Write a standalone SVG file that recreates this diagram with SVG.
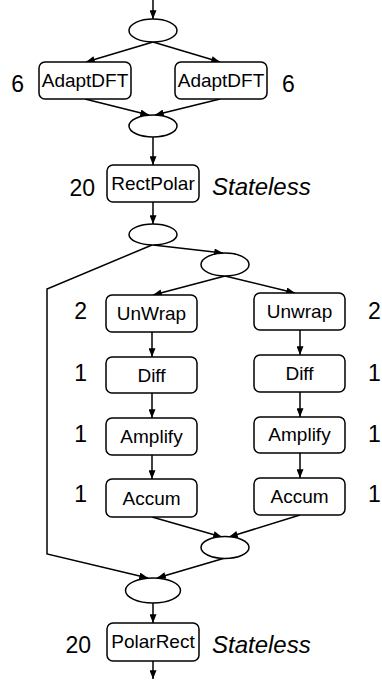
<svg xmlns="http://www.w3.org/2000/svg" width="382" height="680" viewBox="0 0 382 680">
<defs>
<marker id="ah" viewBox="0 0 10 8" refX="10" refY="4" markerWidth="9" markerHeight="7" orient="auto" markerUnits="userSpaceOnUse">
<path d="M0,0 L10,4 L0,8 z" fill="#000"/>
</marker>
</defs>
<style>
.box{fill:#fff;stroke:#000;stroke-width:1.5}
.el{fill:#fff;stroke:#000;stroke-width:1.5}
.bt{font-family:"Liberation Sans",Arial,sans-serif;font-size:19px;text-anchor:middle;fill:#000}
.lb{font-family:"Liberation Sans",Arial,sans-serif;font-size:23px;fill:#000}
.it{font-family:"Liberation Sans",Arial,sans-serif;font-size:24px;font-style:italic;fill:#000}
.c{fill:none;stroke:#000;stroke-width:1.5;marker-end:url(#ah)}
.cn{fill:none;stroke:#000;stroke-width:1.5}
</style>
<rect width="382" height="680" fill="#fff"/>
<g id="connectors">
<path class="c" d="M153,0 L153,19"/>
<path class="c" d="M153,42 L86,62"/>
<path class="c" d="M153,42 L220,62"/>
<path class="c" d="M85,99 L149,115"/>
<path class="c" d="M220,99 L155,115"/>
<path class="c" d="M153,137 L153,165"/>
<path class="c" d="M153,202 L153,224"/>
<path class="c" d="M153,245 L223,253"/>
<path class="c" d="M225,276 L153,295"/>
<path class="c" d="M225,276 L295,293"/>
<path class="c" d="M152,332 L152,357"/>
<path class="c" d="M152,393 L152,418"/>
<path class="c" d="M152,455 L152,479"/>
<path class="c" d="M300,330 L300,355"/>
<path class="c" d="M300,392 L300,417"/>
<path class="c" d="M300,453 L300,478"/>
<path class="c" d="M152,517 L222,537"/>
<path class="c" d="M300,515 L229,537"/>
<path class="c" d="M225,558 L157,578"/>
<path class="c" d="M152,245 L47,289 L47,554 L148,578"/>
<path class="c" d="M153,603 L153,623"/>
<path class="c" d="M153,661 L153,679"/>
</g>
<g id="split1"><ellipse class="el" cx="153" cy="30.5" rx="24" ry="11.5"/></g>
<g id="adaptdft-left">
<rect class="box" x="39" y="62" width="92" height="37" rx="6"/>
<text class="bt" x="85" y="87">AdaptDFT</text>
<text class="lb" x="24" y="92" text-anchor="end">6</text>
</g>
<g id="adaptdft-right">
<rect class="box" x="175" y="62" width="92" height="37" rx="6"/>
<text class="bt" x="221" y="87">AdaptDFT</text>
<text class="lb" x="282" y="92">6</text>
</g>
<g id="join1"><ellipse class="el" cx="153" cy="126" rx="24" ry="11"/></g>
<g id="rectpolar">
<rect class="box" x="107" y="165" width="92" height="37" rx="6"/>
<text class="bt" x="153" y="190">RectPolar</text>
<text class="lb" x="95" y="196" text-anchor="end">20</text>
<text class="it" x="212" y="195">Stateless</text>
</g>
<g id="split2"><ellipse class="el" cx="153" cy="234.5" rx="24" ry="10.5"/></g>
<g id="split3"><ellipse class="el" cx="225" cy="264.5" rx="24" ry="11.5"/></g>
<g id="unwrap-left">
<rect class="box" x="106" y="295" width="91" height="37" rx="6"/>
<text class="bt" x="151.5" y="320">UnWrap</text>
<text class="lb" x="87" y="319" text-anchor="end">2</text>
</g>
<g id="unwrap-right">
<rect class="box" x="254" y="293" width="91" height="37" rx="6"/>
<text class="bt" x="299.5" y="318">Unwrap</text>
<text class="lb" x="368" y="319">2</text>
</g>
<g id="diff-left">
<rect class="box" x="106" y="357" width="91" height="36" rx="6"/>
<text class="bt" x="151.5" y="382">Diff</text>
<text class="lb" x="87" y="381" text-anchor="end">1</text>
</g>
<g id="diff-right">
<rect class="box" x="254" y="355" width="91" height="37" rx="6"/>
<text class="bt" x="299.5" y="380">Diff</text>
<text class="lb" x="368" y="381">1</text>
</g>
<g id="amplify-left">
<rect class="box" x="106" y="418" width="91" height="37" rx="6"/>
<text class="bt" x="151.5" y="443">Amplify</text>
<text class="lb" x="87" y="442" text-anchor="end">1</text>
</g>
<g id="amplify-right">
<rect class="box" x="254" y="417" width="91" height="36" rx="6"/>
<text class="bt" x="299.5" y="441">Amplify</text>
<text class="lb" x="368" y="442">1</text>
</g>
<g id="accum-left">
<rect class="box" x="106" y="479" width="91" height="38" rx="6"/>
<text class="bt" x="151.5" y="505">Accum</text>
<text class="lb" x="87" y="502" text-anchor="end">1</text>
</g>
<g id="accum-right">
<rect class="box" x="254" y="478" width="91" height="37" rx="6"/>
<text class="bt" x="299.5" y="503">Accum</text>
<text class="lb" x="368" y="502">1</text>
</g>
<g id="join2"><ellipse class="el" cx="225" cy="547.5" rx="24" ry="11"/></g>
<g id="join3"><ellipse class="el" cx="153" cy="590.5" rx="27.5" ry="12.5"/></g>
<g id="polarrect">
<rect class="box" x="107" y="623" width="92" height="38" rx="6"/>
<text class="bt" x="153" y="648">PolarRect</text>
<text class="lb" x="91" y="653" text-anchor="end">20</text>
<text class="it" x="212" y="653">Stateless</text>
</g>
</svg>
